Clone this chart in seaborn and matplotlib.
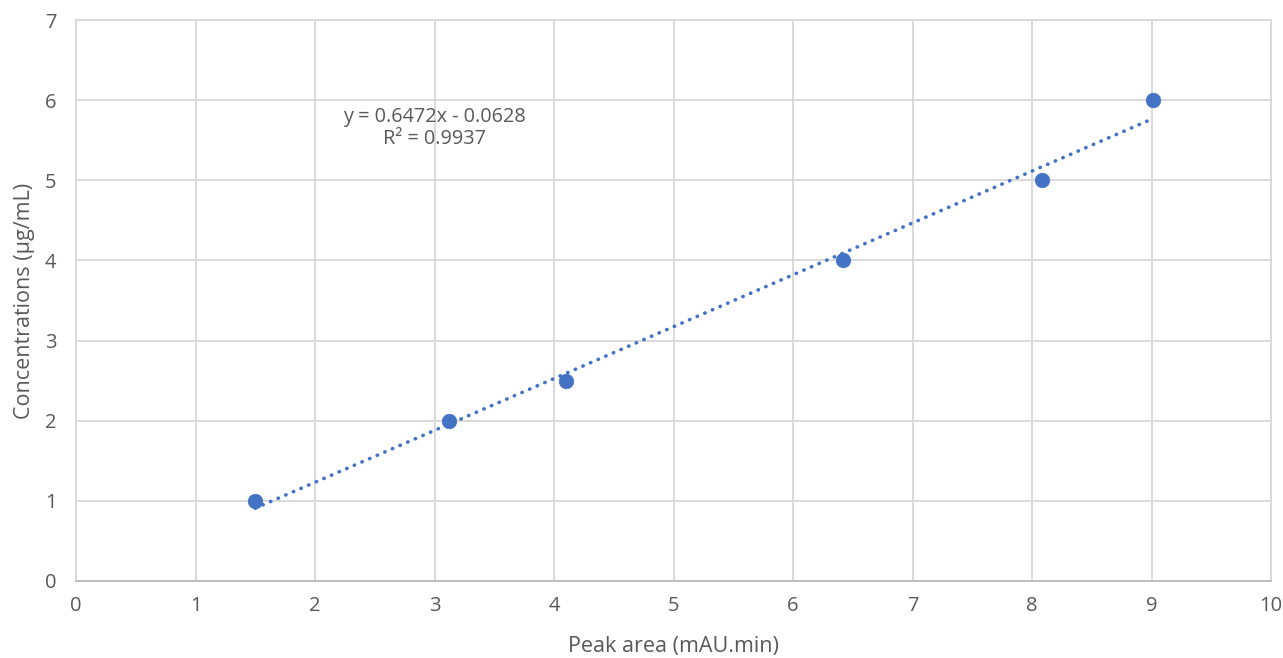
import matplotlib
matplotlib.use("Agg")
import matplotlib.pyplot as plt
import seaborn as sns
import numpy as np
import pandas as pd

peak_area = [1.50, 3.12, 4.10, 6.42, 8.08, 9.01]
concentration = [1.0, 2.0, 2.5, 4.0, 5.0, 6.0]
slope = 0.6472
intercept = -0.0628
equation_text = "y = 0.6472x - 0.0628\nR² = 0.9937"
x_ticks = [0, 1, 2, 3, 4, 5, 6, 7, 8, 9, 10]
y_ticks = [0, 1, 2, 3, 4, 5, 6, 7]

sns.set_style("white")
plt.rcParams['font.family'] = ['Open Sans', 'DejaVu Sans']

blue = "#4472C4"
grey_text = "#595959"
grid = "#D9D9D9"

df = pd.DataFrame({"x": peak_area, "y": concentration})

fig = plt.figure(figsize=(12.83, 6.58), dpi=100)
ax = fig.add_axes([76/1283, 1-581/658, (1271-76)/1283, (581-20)/658])

xs = np.array([min(peak_area), max(peak_area)])
ax.plot(xs, slope*xs + intercept, linestyle=(0, (0.1, 2.2)), color=blue,
        linewidth=2.6, dash_capstyle="round", zorder=2)
sns.scatterplot(data=df, x="x", y="y", ax=ax, color=blue, s=110,
                edgecolor=blue, linewidth=0.5, zorder=3)

ax.set_xlim(0, 10)
ax.set_ylim(0, 7)
ax.set_xticks(x_ticks)
ax.set_yticks(y_ticks)
ax.grid(True, color=grid, linewidth=1.4)
ax.set_axisbelow(True)
for side in ["top", "right", "left"]:
    ax.spines[side].set_color(grid)
    ax.spines[side].set_linewidth(1.4)
ax.spines["bottom"].set_color("#BFBFBF")
ax.spines["bottom"].set_linewidth(1.4)
ax.tick_params(axis="both", length=0, labelsize=14.5, colors=grey_text)
ax.tick_params(axis="x", pad=11)
ax.tick_params(axis="y", pad=14)

ax.set_xlabel("Peak area (mAU.min)", fontsize=15.5, color=grey_text, labelpad=14)
ax.set_ylabel("Concentrations (µg/mL)", fontsize=15.5, color=grey_text, labelpad=7)

ax.text(3.0, 5.65, equation_text, ha="center", va="center", fontsize=14.3,
        color=grey_text, linespacing=1.15)

fig.savefig("out.png", dpi=100)
